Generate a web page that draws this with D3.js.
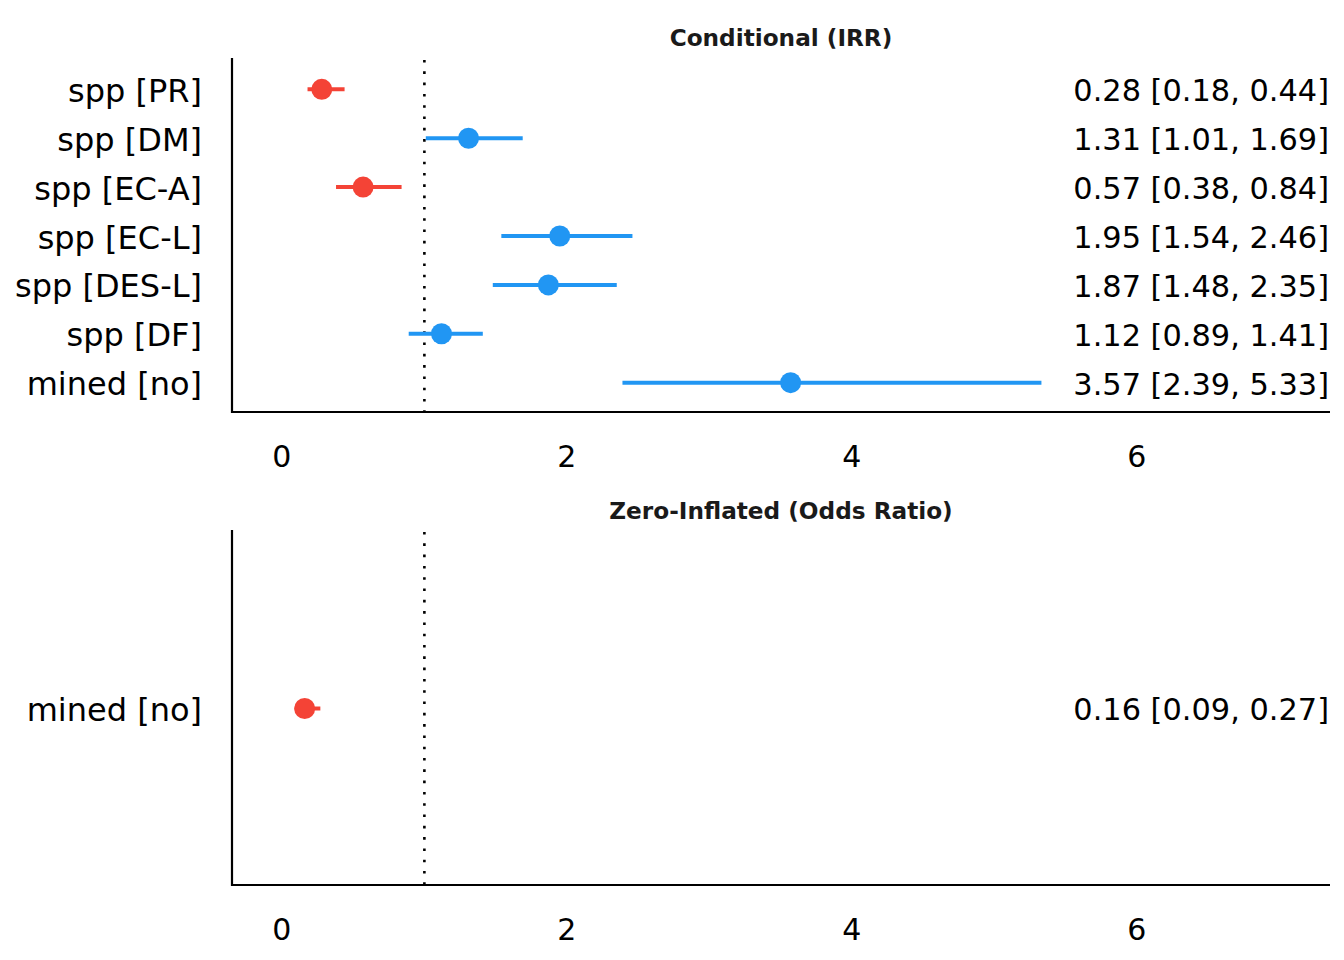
<!DOCTYPE html>
<html>
<head>
<meta charset="utf-8">
<script src="https://cdn.jsdelivr.net/npm/d3@7"></script>
<style>
  html, body { margin: 0; padding: 0; background: #fff; }
  svg { display: block; }
</style>
</head>
<body>
<svg id="chart" width="1344" height="960"></svg>
<script>
// Data
const condTerms = ["spp [PR]", "spp [DM]", "spp [EC-A]", "spp [EC-L]", "spp [DES-L]", "spp [DF]", "mined [no]"];
const condEst   = [0.28, 1.31, 0.57, 1.95, 1.87, 1.12, 3.57];
const condLow   = [0.18, 1.01, 0.38, 1.54, 1.48, 0.89, 2.39];
const condHigh  = [0.44, 1.69, 0.84, 2.46, 2.35, 1.41, 5.33];

const ziTerms = ["mined [no]"];
const ziEst   = [0.16];
const ziLow   = [0.09];
const ziHigh  = [0.27];

const xTicks = [0, 2, 4, 6];
const panelTitles = ["Conditional (IRR)", "Zero-Inflated (Odds Ratio)"];

const RED = "#F44336", BLUE = "#2196F3";
const FONT = "DejaVu Sans, sans-serif";

const svg = d3.select("#chart");
const x = d3.scaleLinear().domain([-0.35, 7.355]).range([232, 1330]);

function panel(title, terms, est, low, high, top, bottom, titleY) {
  const rows = terms.map((t, i) => ({ term: t, est: est[i], low: low[i], high: high[i] }));
  const y = d3.scalePoint().domain(terms).range([top, bottom]).padding(0.6);
  const g = svg.append("g");

  g.append("text")
    .attr("x", (x.range()[0] + x.range()[1]) / 2)
    .attr("y", titleY)
    .attr("text-anchor", "middle")
    .attr("font-family", FONT)
    .attr("font-weight", "bold")
    .attr("font-size", 23.2)
    .attr("fill", "#1a1a1a")
    .text(title);

  // reference line at 1
  g.append("line")
    .attr("x1", x(1)).attr("x2", x(1))
    .attr("y1", top).attr("y2", bottom)
    .attr("stroke", "#000")
    .attr("stroke-width", 2.6)
    .attr("stroke-dasharray", "2.6 8.7");

  // axes lines
  g.append("line")
    .attr("x1", x.range()[0]).attr("x2", x.range()[0])
    .attr("y1", top - 2).attr("y2", bottom + 1)
    .attr("stroke", "#000").attr("stroke-width", 2.2);
  g.append("line")
    .attr("x1", x.range()[0] - 1).attr("x2", x.range()[1])
    .attr("y1", bottom).attr("y2", bottom)
    .attr("stroke", "#000").attr("stroke-width", 2.2);

  // x tick labels
  g.selectAll("text.xt").data(xTicks).join("text")
    .attr("class", "xt")
    .attr("x", d => x(d))
    .attr("y", bottom + 44)
    .attr("dy", "0.36em")
    .attr("text-anchor", "middle")
    .attr("font-family", FONT)
    .attr("font-size", 30)
    .attr("fill", "#000")
    .text(d => d);

  // y labels
  g.selectAll("text.yl").data(rows).join("text")
    .attr("class", "yl")
    .attr("x", 202)
    .attr("y", d => y(d.term) + 1)
    .attr("dy", "0.36em")
    .attr("text-anchor", "end")
    .attr("font-family", FONT)
    .attr("font-size", 32)
    .attr("fill", "#000")
    .text(d => d.term);

  // error bars
  g.selectAll("line.eb").data(rows).join("line")
    .attr("class", "eb")
    .attr("x1", d => x(d.low)).attr("x2", d => x(d.high))
    .attr("y1", d => y(d.term)).attr("y2", d => y(d.term))
    .attr("stroke", d => d.est < 1 ? RED : BLUE)
    .attr("stroke-width", 4);

  // points
  g.selectAll("circle.pt").data(rows).join("circle")
    .attr("class", "pt")
    .attr("cx", d => x(d.est))
    .attr("cy", d => y(d.term))
    .attr("r", 10.5)
    .attr("fill", d => d.est < 1 ? RED : BLUE);

  // value labels
  g.selectAll("text.vl").data(rows).join("text")
    .attr("class", "vl")
    .attr("x", 1329)
    .attr("y", d => y(d.term) + 1)
    .attr("dy", "0.36em")
    .attr("text-anchor", "end")
    .attr("font-family", FONT)
    .attr("font-size", 30.4)
    .attr("fill", "#000")
    .text(d => `${d.est.toFixed(2)} [${d.low.toFixed(2)}, ${d.high.toFixed(2)}]`);
}

panel(panelTitles[0], condTerms, condEst, condLow, condHigh, 60, 412, 46);
panel(panelTitles[1], ziTerms, ziEst, ziLow, ziHigh, 532, 885, 519);
</script>
</body>
</html>
